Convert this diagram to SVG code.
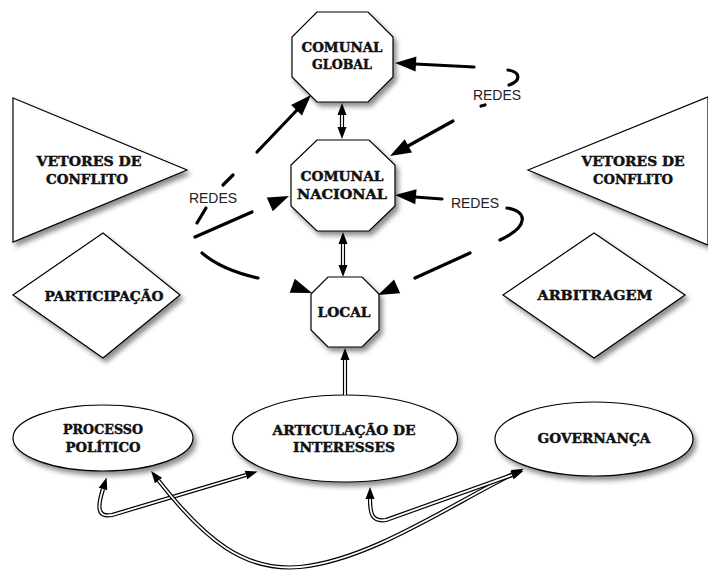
<svg xmlns="http://www.w3.org/2000/svg" xmlns:xlink="http://www.w3.org/1999/xlink" width="708" height="570" viewBox="0 0 708 570">
<style>
.s{fill:#fff;stroke:#000;stroke-width:1.2;filter:url(#sh)}
.t{font-family:"DejaVu Serif","Liberation Serif",serif;font-weight:bold;font-size:13px;text-anchor:middle;fill:#111;stroke:#111;stroke-width:0.45}
.r{font-family:"Liberation Sans",Arial,sans-serif;font-size:14px;text-anchor:middle;fill:#222}
.k{fill:none;stroke:#000;stroke-width:3.2;stroke-linecap:round}
.db{fill:none;stroke:#000;stroke-width:4.2;marker-start:url(#m2);marker-end:url(#m2)}
.de{fill:none;stroke:#000;stroke-width:4.2;marker-end:url(#m2)}
.dw{fill:none;stroke:#fff;stroke-width:1.8}
</style>
<defs>
<filter id="sh" x="-20%" y="-20%" width="150%" height="150%"><feDropShadow dx="3" dy="4" stdDeviation="2.5" flood-color="#000" flood-opacity="0.45"/></filter>
<path id="ah" d="M0,0 L-21,-7.5 L-21,7.5 Z"/>
<marker id="m2" markerUnits="userSpaceOnUse" markerWidth="14" markerHeight="12" viewBox="0 -6 14 12" refX="0" refY="0" orient="auto-start-reverse" overflow="visible"><path d="M0,-4.5 L12,0 L0,4.5 Z" fill="#000"/></marker>
</defs>
<rect width="708" height="570" fill="#fff"/>

<g id="vetores-esq"><polygon class="s" points="13,98 187,170 13,242"/><text class="t" x="89" y="166" textLength="105" lengthAdjust="spacingAndGlyphs">VETORES DE</text><text class="t" x="87" y="184" textLength="82" lengthAdjust="spacingAndGlyphs">CONFLITO</text></g>
<g id="vetores-dir"><polygon class="s" points="528,170 708,97 708,245"/><text class="t" x="633" y="166" textLength="103" lengthAdjust="spacingAndGlyphs">VETORES DE</text><text class="t" x="633" y="184" textLength="80" lengthAdjust="spacingAndGlyphs">CONFLITO</text></g>
<g id="participacao"><polygon class="s" points="13,295 103,233 180,295 103,358"/><text class="t" x="104" y="301" textLength="119" lengthAdjust="spacingAndGlyphs">PARTICIPAÇÃO</text></g>
<g id="arbitragem"><polygon class="s" points="503,295 594,233 685,295 594,358"/><text class="t" x="595" y="300" textLength="115" lengthAdjust="spacingAndGlyphs">ARBITRAGEM</text></g>
<g id="comunal-global"><polygon class="s" points="317,12 368,12 393,37 393,77 368,102 317,102 292,77 292,37"/><text class="t" x="342" y="52" textLength="81" lengthAdjust="spacingAndGlyphs">COMUNAL</text><text class="t" x="342" y="69" textLength="60" lengthAdjust="spacingAndGlyphs">GLOBAL</text></g>
<g id="comunal-nacional"><polygon class="s" points="317,140 369,140 395,165 395,206 369,231 317,231 291,206 291,165"/><text class="t" x="342" y="181" textLength="83" lengthAdjust="spacingAndGlyphs">COMUNAL</text><text class="t" x="342" y="199" textLength="90" lengthAdjust="spacingAndGlyphs">NACIONAL</text></g>
<g id="local"><polygon class="s" points="328,277 362,277 379,294 379,330 362,347 328,347 311,330 311,294"/><text class="t" x="344" y="317" textLength="53" lengthAdjust="spacingAndGlyphs">LOCAL</text></g>
<g id="processo"><ellipse class="s" cx="103" cy="438" rx="90" ry="33"/><text class="t" x="103" y="434" textLength="80" lengthAdjust="spacingAndGlyphs">PROCESSO</text><text class="t" x="103" y="452" textLength="75" lengthAdjust="spacingAndGlyphs">POLÍTICO</text></g>
<g id="articulacao"><ellipse class="s" cx="345" cy="438.5" rx="112.5" ry="43.5"/><text class="t" x="344" y="435" textLength="143" lengthAdjust="spacingAndGlyphs">ARTICULAÇÃO DE</text><text class="t" x="344" y="452" textLength="102" lengthAdjust="spacingAndGlyphs">INTERESSES</text></g>
<g id="governanca"><ellipse class="s" cx="594" cy="439" rx="99" ry="37"/><text class="t" x="594" y="443" textLength="113" lengthAdjust="spacingAndGlyphs">GOVERNANÇA</text></g>

<g id="connectors">
<path class="k" d="M474,67 L415,64"/><use xlink:href="#ah" transform="translate(395,63) rotate(183)"/>
<path class="k" d="M508,70 C521,72 521,81 509,85"/>
<path class="k" d="M481,106 L485,105"/>
<text class="r" x="497" y="100">REDES</text>
<path class="k" d="M453,121 L408,146"/><use xlink:href="#ah" transform="translate(390,156) rotate(151)"/>

<path class="k" d="M257,152 L297,110"/><use xlink:href="#ah" transform="translate(311,95) rotate(-46.5)"/>
<path class="k" d="M223,185 L233,175"/>
<path class="k" d="M197,223 L206,208"/>
<text class="r" x="213" y="203">REDES</text>
<path class="k" d="M195,237 L252,212"/><use xlink:href="#ah" transform="translate(289,196) rotate(-23.7)"/>
<path class="k" d="M202,253 Q222,270 258,278"/><use xlink:href="#ah" transform="translate(312,293) rotate(20)"/>

<path class="k" d="M442,199 L415,197"/><use xlink:href="#ah" transform="translate(395,195) rotate(185)"/>
<text class="r" x="475" y="208">REDES</text>
<path class="k" d="M507,208 C527,211 530,226 500,240"/>
<path class="k" d="M470,253 L415,278"/><use xlink:href="#ah" transform="translate(378,295) rotate(155.6)"/>

<path class="db" d="M342,115 L342,127"/><path class="dw" d="M342,115 L342,127"/>
<path class="db" d="M343,244 L343,265"/><path class="dw" d="M343,244 L343,265"/>
<path class="de" d="M345,395 L345,360"/><path class="dw" d="M345,395 L345,360"/>

<path class="db" d="M103,489 C98,505 96,518 112,515 L246,475"/><path class="dw" d="M103,489 C98,505 96,518 112,515 L246,475"/>
<path class="db" d="M158.5,480.5 C205,540 245,572 300,567 C370,560 450,505 513,474"/><path class="dw" d="M158.5,480.5 C205,540 245,572 300,567 C370,560 450,505 513,474"/>
<path class="db" d="M370,499 C370,514 372,522 386,520 L512,475"/><path class="dw" d="M370,499 C370,514 372,522 386,520 L512,475"/>
</g>
</svg>
